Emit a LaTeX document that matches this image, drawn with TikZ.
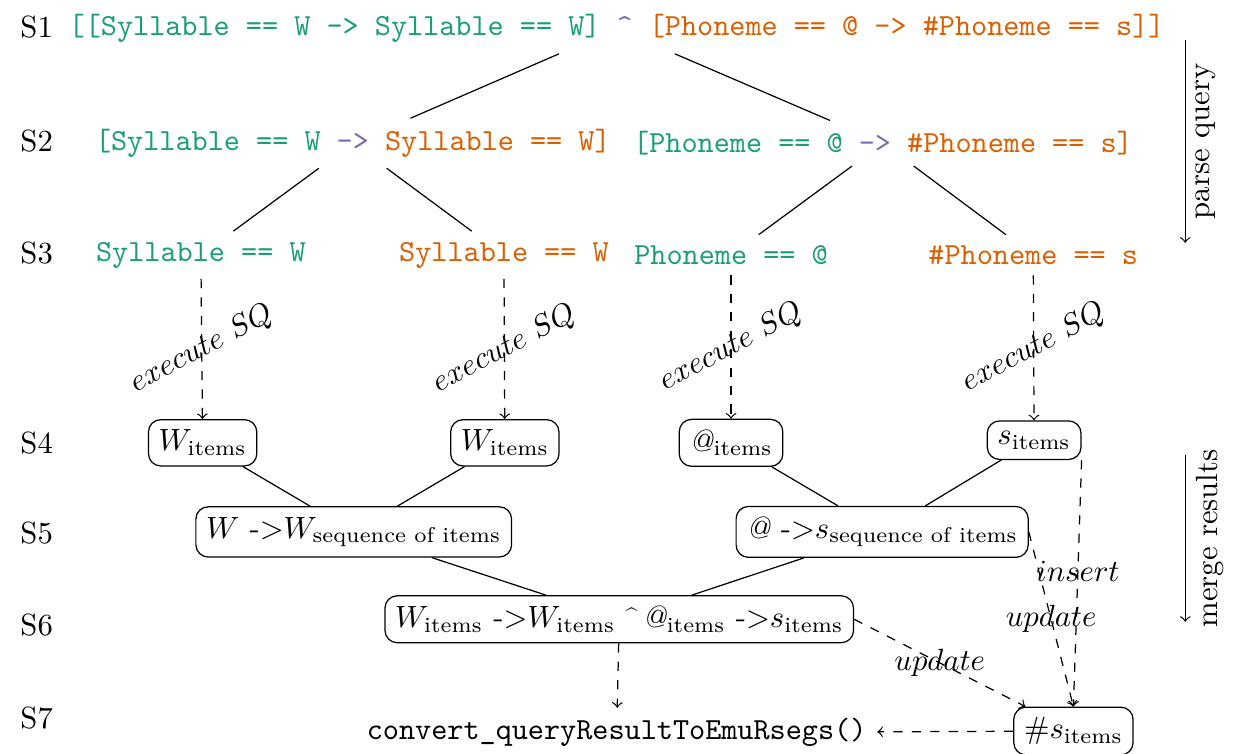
\documentclass[tikz,border=0pt]{standalone}
\usepackage{amsmath}
\usepackage{tikz}
\definecolor{dgreen}{HTML}{1B9E77}
\definecolor{dorange}{HTML}{D95F02}
\definecolor{dpurple}{HTML}{7570B3}

\begin{document}
\begin{tikzpicture}[>=to,
  qry/.style={font=\ttfamily},
  res/.style={draw,rounded corners=4pt},
  ex/.style={->,dashed}]
\useasboundingbox (0,0) rectangle (14.14,-8.63);
\node (s1) at (0.42,-0.31) {S1};
\node (s2) at (0.42,-1.61) {S2};
\node (s3) at (0.42,-2.90) {S3};
\node (s4) at (0.42,-5.07) {S4};
\node (s5) at (0.42,-6.10) {S5};
\node (s6) at (0.42,-7.16) {S6};
\node (s7) at (0.42,-8.22) {S7};
\node[qry] (q1) at (7.06,-0.33) {\color{dgreen}[[Syllable == W -> Syllable == W] \color{dpurple}\^{} \color{dorange}[Phoneme == @ -> \#Phoneme == s]]};
\node[qry] (q2a) at (4.04,-1.64) {\color{dgreen}[Syllable == W \color{dpurple}-> \color{dorange}Syllable == W]};
\node[qry] (q2b) at (10.11,-1.64) {\color{dgreen}[Phoneme == @ \color{dpurple}-> \color{dorange}\#Phoneme == s]};
\node[qry,text=dgreen] (q3a) at (2.30,-2.92) {Syllable == W};
\node[qry,text=dorange] (q3b) at (5.77,-2.92) {Syllable == W};
\node[qry,text=dgreen] (q3c) at (8.37,-2.92) {Phoneme == @};
\node[qry,text=dorange] (q3d) at (11.83,-2.92) {\#Phoneme == s};
\node[res] (r4a) at (2.32,-5.07) {$W_{\text{items}}$};
\node[res] (r4b) at (5.78,-5.07) {$W_{\text{items}}$};
\node[res] (r4c) at (8.37,-5.07) {\textit{@}$_{\text{items}}$};
\node[res] (r4d) at (11.84,-5.04) {$s_{\text{items}}$};
\node[res] (r5a) at (4.05,-6.09) {$W$ -$>$$W_{\text{sequence of items}}$};
\node[res] (r5b) at (10.10,-6.09) {\textit{@} -$>$$s_{\text{sequence of items}}$};
\node[res] (r6) at (7.09,-7.09) {$W_{\text{items}}$ -$>$$W_{\text{items}}$ \raisebox{.3ex}{\scriptsize\^{}}\,\textit{@}$_{\text{items}}$ -$>$$s_{\text{items}}$};
\node[qry] (conv) at (7.06,-8.39) {convert\_queryResultToEmuRsegs()};
\node[res] (r7) at (12.29,-8.37) {$\#s_{\text{items}}$};
\draw (q1) -- (q2a);
\draw (q1) -- (q2b);
\draw (q2a) -- (q3a);
\draw (q2a) -- (q3b);
\draw (q2b) -- (q3c);
\draw (q2b) -- (q3d);
\draw[ex] (q3a) -- node[rotate=28]{$execute\ SQ$} (r4a);
\draw[ex] (q3b) -- node[rotate=28]{$execute\ SQ$} (r4b);
\draw[ex] (q3c) -- node[rotate=28]{$execute\ SQ$} (r4c);
\draw[ex] (q3d) -- node[rotate=28]{$execute\ SQ$} (r4d);
\draw (r4a) -- (r5a);
\draw (r4b) -- (r5a);
\draw (r4c) -- (r5b);
\draw (r4d) -- (r5b);
\draw (r5a) -- (r6);
\draw (r5b) -- (r6);
\draw[ex] (r6) -- (conv);
\draw[ex] (r7) -- (conv);
\draw[ex] (r6.east) -- node{$update$} (r7);
\draw[ex] (r5b.east) -- node{$update$} (r7.north);
\draw[ex] (r4d.south east) -- node[pos=0.45]{$insert$} (r7.north);
\coordinate (pq1) at (13.57,-0.46);
\coordinate (pq2) at (13.57,-2.78);
\coordinate (mr1) at (13.57,-5.21);
\coordinate (mr2) at (13.57,-7.12);
\draw[->] (pq1) -- node[rotate=90,anchor=north]{parse query} (pq2);
\draw[->] (mr1) -- node[rotate=90,anchor=north]{merge results} (mr2);
\end{tikzpicture}
\end{document}
